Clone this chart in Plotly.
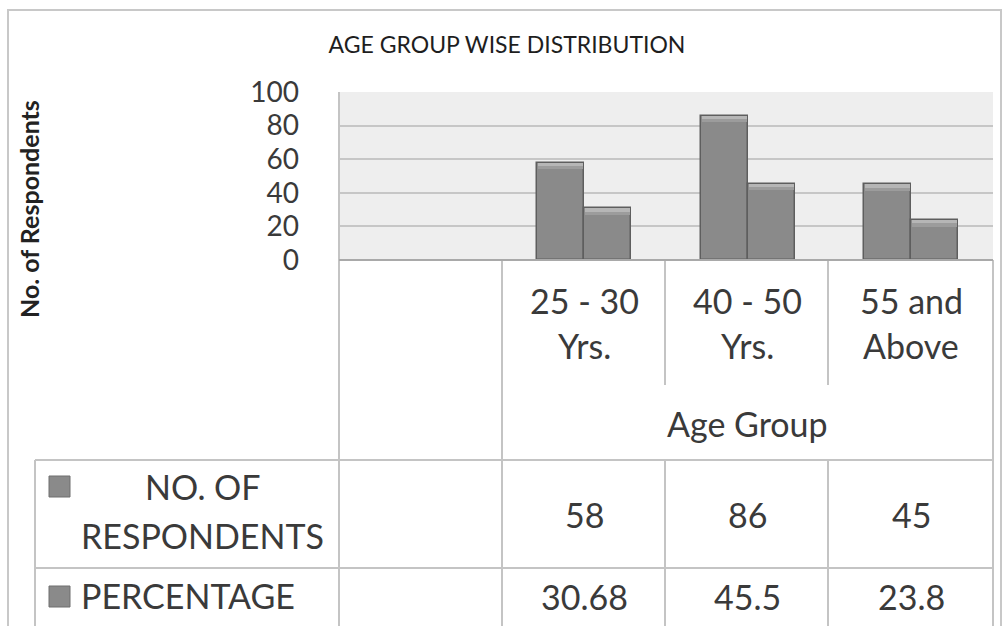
import plotly.graph_objects as go

# ---- data -------------------------------------------------------------
age_groups = ["25 - 30<br>Yrs.", "40 - 50<br>Yrs.", "55 and<br>Above"]
respondents = [58, 86, 45]
percentage = [30.68, 45.5, 23.8]
series_names = ["NO. OF<br>RESPONDENTS", "PERCENTAGE"]
y_ticks = [0, 20, 40, 60, 80, 100]

# the first slot of the category axis is left empty
slots = [""] + age_groups
xpos = [slots.index(g) for g in age_groups]

# ---- geometry (pixels) -------------------------------------------------
W, H = 1002, 626
PL, PR, PT, PB = 339, 993, 92, 260   # plot area box


def px(x):
    return (x - PL) / (PR - PL)


def py(y):
    return (PB - y) / (PB - PT)


FONT = "Lato, 'Open Sans', sans-serif"
TXT = "#3a3a3a"
GRID = "#c6c6c6"
BAR = "#8a8a8a"
BAR_EDGE = "#5e5e5e"
BAR_W = 0.288
BIG = 34
# bevel bands along the top of each bar: (depth below top, colour)
BEVEL = [(4.0, "#9c9c9c"), (2.0, "#b6b6b6")]

fig = go.Figure()

for vals, off in [(respondents, -BAR_W), (percentage, 0.0)]:
    fig.add_trace(go.Bar(
        x=xpos, y=vals, width=BAR_W, offset=off,
        marker=dict(color=BAR, line=dict(color=BAR_EDGE, width=1.5)),
        showlegend=False, hoverinfo="y",
    ))
    for depth, col in BEVEL:
        fig.add_trace(go.Bar(
            x=xpos, y=[depth] * len(vals), base=[v - depth for v in vals],
            width=BAR_W - 0.014, offset=off + 0.007,
            marker=dict(color=col, line=dict(width=0)),
            showlegend=False, hoverinfo="skip",
        ))

shapes = []
LINE = dict(color="#c4c4c4", width=2)


def seg(x0, y0, x1, y1, line=LINE):
    shapes.append(dict(type="line", xref="paper", yref="paper",
                       x0=px(x0), y0=py(y0), x1=px(x1), y1=py(y1),
                       line=line, layer="above"))


# outer chart frame
shapes.append(dict(type="rect", xref="paper", yref="paper",
                   x0=px(8), y0=py(10), x1=px(1001), y1=py(640),
                   line=dict(color="#c8c8c8", width=2), layer="below"))

# data table grid
seg(PL, PT, PL, 640)
seg(502, PB, 502, 640)
for xc in (665, 828):
    seg(xc, PB, xc, 385)
    seg(xc, 460, xc, 640)
seg(PR, PB, PR, 640)
seg(35, 460, PR, 460)
seg(35, 568, PR, 568)
seg(35, 460, 35, 640)
seg(PL, PB, PR, PB, dict(color="#a9a9a9", width=2))

# legend keys in the row headers
for yk in (476, 586):
    shapes.append(dict(type="rect", xref="paper", yref="paper",
                       x0=px(49), y0=py(yk), x1=px(70), y1=py(yk + 21),
                       fillcolor=BAR, line=dict(color="#6e6e6e", width=1),
                       layer="above"))


def label(text, x, y, xref="paper", size=BIG, xanchor="center", **kw):
    return dict(x=x, xref=xref, y=py(y), yref="paper", text=text,
                showarrow=False, xanchor=xanchor, yanchor="middle",
                font=dict(family=FONT, size=size, color=kw.pop("color", TXT)),
                **kw)


ann = []
# category labels, one line at a time
for g, xp in zip(age_groups, xpos):
    for line_txt, yl in zip(g.split("<br>"), (300, 345)):
        ann.append(label(line_txt, xp, yl, xref="x"))
# axis title under the categories
ann.append(label("Age Group", px(747), 423))
# table values
for row_vals, yrow in [(respondents, 514), (percentage, 596)]:
    for v, xp in zip(row_vals, xpos):
        ann.append(label(str(v), xp, yrow, xref="x"))
# row headers
head1, head2 = series_names[0].split("<br>")
ann.append(label(head1, px(203), 486))
ann.append(label(head2, px(79), 535, xanchor="left"))
ann.append(label(series_names[1], px(79), 595, xanchor="left"))
# y-axis title
ann.append(label("<b>No. of Respondents</b>", px(29), 209, size=25,
                 textangle=-90, color="#222222"))

fig.update_layout(
    width=W, height=H,
    margin=dict(l=PL, r=W - PR, t=PT, b=H - PB, pad=0),
    paper_bgcolor="white", plot_bgcolor="#eeeeee",
    barmode="overlay", bargap=0,
    title=dict(text="AGE GROUP WISE DISTRIBUTION", x=px(507), xref="paper",
               xanchor="center", y=1 - 45 / H, yref="container", yanchor="middle",
               font=dict(family=FONT, size=23, color="#1e1e1e")),
    xaxis=dict(range=[-0.5, len(slots) - 0.5], showticklabels=False,
               showgrid=False, zeroline=False, showline=False, fixedrange=True),
    yaxis=dict(range=[0, 100], tickvals=y_ticks, showgrid=True, gridcolor=GRID,
               gridwidth=2, zeroline=False, showline=False, ticks="",
               ticklabelstandoff=39,
               tickfont=dict(family=FONT, size=28, color=TXT), fixedrange=True),
    shapes=shapes, annotations=ann, showlegend=False,
)

fig.write_html("out.html")
